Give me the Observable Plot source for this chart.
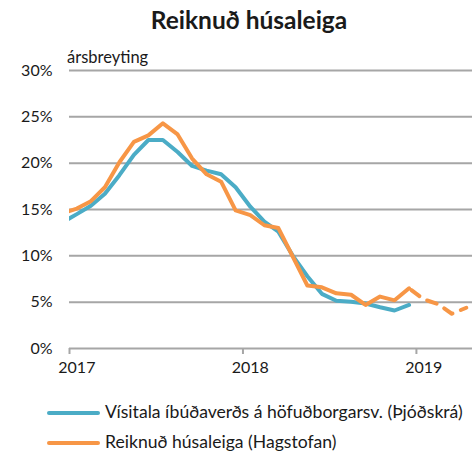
<!DOCTYPE html>
<html><head><meta charset="utf-8">
<script src="https://cdn.jsdelivr.net/npm/d3@7"></script>
<script src="https://cdn.jsdelivr.net/npm/@observablehq/plot@0.6"></script>
<style>
body{margin:0;background:#fff;font-family:Lato,"Open Sans",sans-serif;color:#1a1a1a}
#wrap{position:relative;width:475px;height:453px;overflow:hidden}
#title{position:absolute;left:0;width:498px;top:8px;text-align:center;font-weight:bold;font-size:24.5px;line-height:24.5px}
#chart{position:absolute;left:0;top:40px}
#sub{position:absolute;left:67px;top:48.5px;font-size:16.5px;line-height:16.5px}
.leg{position:absolute;left:47px;font-size:17.6px;line-height:17.6px;white-space:nowrap}
.leg span.sw{display:inline-block;width:53px;height:4px;border-radius:2px;vertical-align:middle;margin-right:5px;position:relative;top:-1px}
</style></head>
<body><div id="wrap">
<div id="title">Reiknuð húsaleiga</div>
<div id="chart"></div>
<div id="sub">ársbreyting</div>
<div class="leg" id="leg1" style="top:403px"><span class="sw" style="background:#4bacc6"></span>Vísitala íbúðaverðs á höfuðborgarsv. (Þjóðskrá)</div>
<div class="leg" id="leg2" style="top:433px"><span class="sw" style="background:#f79646"></span>Reiknuð húsaleiga (Hagstofan)</div>
</div>
<script>
// Months (Dec 2016 point lies just outside the axis and is clipped, as in the reference)
const months = ["2016-12","2017-01","2017-02","2017-03","2017-04","2017-05","2017-06","2017-07","2017-08","2017-09","2017-10","2017-11","2017-12",
  "2018-01","2018-02","2018-03","2018-04","2018-05","2018-06","2018-07","2018-08","2018-09","2018-10","2018-11","2018-12",
  "2019-01","2019-02","2019-03","2019-04"];
// Vísitala íbúðaverðs á höfuðborgarsv. (Þjóðskrá), % yearly change, Dec 2016 – Dec 2018
const visitala = [13.6,14.5,15.4,16.7,18.7,20.9,22.5,22.5,21.2,19.7,19.2,18.8,17.4,
  15.3,13.7,12.6,10.0,7.8,5.9,5.15,5.05,4.85,4.45,4.1,4.7];
// Reiknuð húsaleiga (Hagstofan), % yearly change, Dec 2016 – Apr 2019 (dashed from Dec 2018)
const husaleiga = [14.6,15.1,15.9,17.4,20.1,22.3,23.0,24.3,23.1,20.5,18.8,18.0,14.9,
  14.4,13.3,13.0,9.9,6.8,6.6,5.95,5.8,4.7,5.6,5.2,6.5,
  5.3,4.8,3.75,4.4];
const dashFrom = "2018-12";
const yTicks = [0,5,10,15,20,25,30];
const years = ["2017","2018","2019"];
const xStart = "2017-01-01", xEnd = "2019-04-29";

const mid = m => { const a = d3.utcParse("%Y-%m")(m); const b = d3.utcMonth.offset(a,1); return new Date((+a + +b)/2); };
const blueData = visitala.map((v,i)=>({date: mid(months[i]), v}));
const orangeAll = husaleiga.map((v,i)=>({date: mid(months[i]), v, m: months[i]}));
const di = months.indexOf(dashFrom);
const orangeSolid = orangeAll.slice(0, di+1);
const orangeDash = orangeAll.slice(di);
const yearStarts = years.map(y => d3.utcParse("%Y")(y));

const chart = Plot.plot({
  width: 475, height: 345,
  marginLeft: 69, marginRight: 3, marginTop: 30, marginBottom: 37,
  x: {type: "utc", domain: [d3.utcParse("%Y-%m-%d")(xStart), d3.utcParse("%Y-%m-%d")(xEnd)]},
  y: {domain: [0, 30]},
  style: {fontFamily: "Lato, 'Open Sans', sans-serif", fontSize: "16px", color: "#1a1a1a", background: "#fff", overflow: "visible"},
  marks: [
    Plot.ruleY(yTicks, {stroke: "#a6a6a6", strokeWidth: 2, strokeOpacity: 1}),
    Plot.axisY(yTicks, {tickSize: 0, tickPadding: 17, tickFormat: d => d + "%", fontSize: 16, label: null}),
    Plot.axisX(yearStarts, {tickSize: 6, stroke: "#a6a6a6", strokeWidth: 2, strokeOpacity: 1, tickFormat: () => "", label: null}),
    Plot.text(years, {x: d => mid(d + "-01"), text: d => d, frameAnchor: "bottom", dy: 24, fontSize: 16}),
    Plot.line(blueData, {x: "date", y: "v", stroke: "#4bacc6", strokeWidth: 4, strokeLinejoin: "round", clip: true}),
    Plot.line(orangeSolid, {x: "date", y: "v", stroke: "#f79646", strokeWidth: 4, strokeLinejoin: "round", clip: true}),
    Plot.line(orangeDash, {x: "date", y: "v", stroke: "#f79646", strokeWidth: 4, strokeLinejoin: "round", strokeLinecap: "round", strokeDasharray: "10,9", strokeDashoffset: -3, clip: true})
  ]
});
document.getElementById("chart").appendChild(chart);
</script>
</body></html>
